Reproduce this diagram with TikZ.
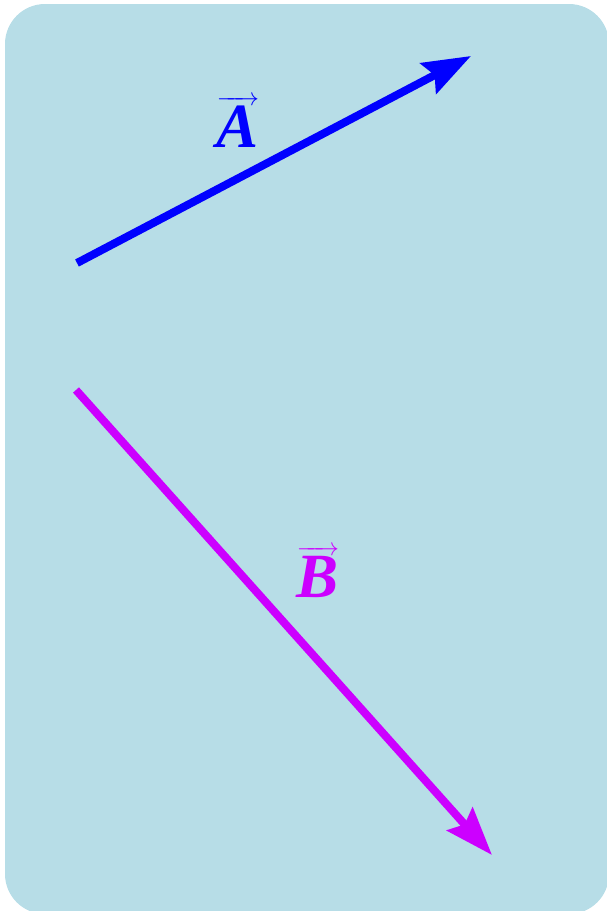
\documentclass[tikz,border=0pt]{standalone}
\usepackage{amsmath}
\usepackage{fontspec}
\setmainfont{Liberation Serif}
\usepackage{tikz}
\usetikzlibrary{arrows.meta}
\definecolor{boardblue}{RGB}{183, 221, 231}
\definecolor{vecA}{RGB}{0, 0, 255}
\definecolor{vecB}{RGB}{204, 0, 255}

\begin{document}
\begin{tikzpicture}[
    x=1pt, y=-1pt,
    vector/.style={line width=8pt, -{Stealth[length=48pt, width=34pt, inset=7pt]}},
    veclabel/.style={font=\fontsize{63}{70}\selectfont\bfseries\itshape, inner sep=0pt}
]
    \useasboundingbox (0,0) rectangle (607,911);
    \clip (0,0) rectangle (607,911);
    \fill[boardblue, rounded corners=40pt] (5,4) rectangle (609,914);

    % vector A
    \coordinate (tailA) at (77,263);
    \coordinate (tipA) at (471,56);
    \draw[vector, vecA] (tailA) -- (tipA);
    \node[veclabel, text=vecA] (labelA) at (238,122) {$\overrightarrow{\text{\bfseries\itshape A}}$};

    % vector B
    \coordinate (tailB) at (76,390);
    \coordinate (tipB) at (492,855);
    \draw[vector, vecB] (tailB) -- (tipB);
    \node[veclabel, text=vecB] (labelB) at (318,572) {$\overrightarrow{\text{\bfseries\itshape B}}$};
\end{tikzpicture}
\end{document}
